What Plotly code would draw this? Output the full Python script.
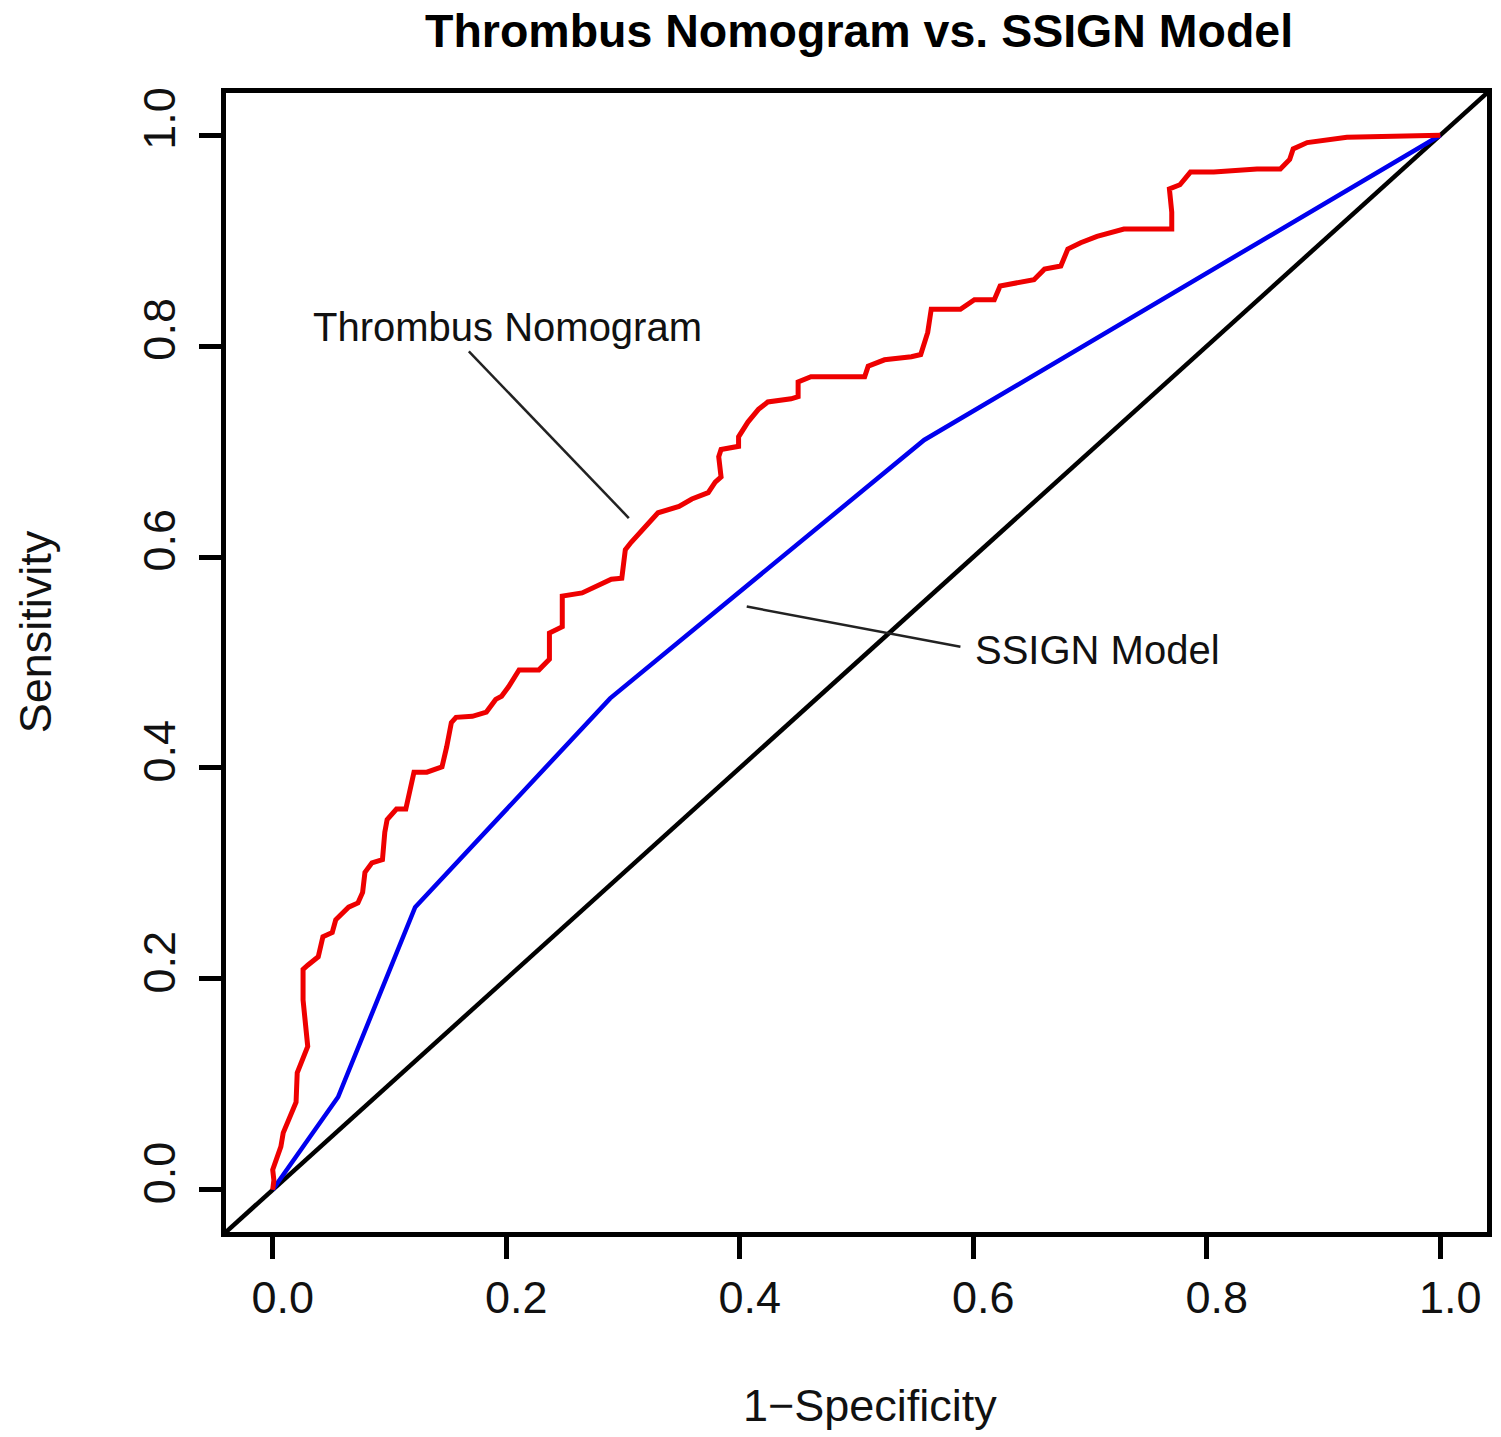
import plotly.graph_objects as go

# ROC curve of the thrombus nomogram (1-specificity, sensitivity)
nomogram_fpr = [0.000, 0.001, 0.000, 0.007, 0.009, 0.020, 0.021, 0.028, 0.030, 0.026,
                0.026, 0.030, 0.039, 0.043, 0.051, 0.054, 0.065, 0.073, 0.077, 0.079,
                0.085, 0.094, 0.096, 0.098, 0.106, 0.114, 0.119, 0.121, 0.132, 0.145,
                0.149, 0.153, 0.157, 0.171, 0.183, 0.191, 0.196, 0.202, 0.211, 0.228,
                0.237, 0.237, 0.248, 0.248, 0.265, 0.277, 0.290, 0.299, 0.302, 0.307,
                0.322, 0.330, 0.348, 0.359, 0.373, 0.379, 0.384, 0.382, 0.384, 0.399,
                0.399, 0.407, 0.416, 0.424, 0.444, 0.450, 0.450, 0.461, 0.493, 0.507,
                0.510, 0.524, 0.547, 0.555, 0.561, 0.564, 0.589, 0.601, 0.618, 0.623,
                0.652, 0.661, 0.675, 0.681, 0.692, 0.706, 0.729, 0.770, 0.770, 0.768,
                0.777, 0.786, 0.806, 0.843, 0.863, 0.871, 0.874, 0.886, 0.920, 0.994,
                1.000]
nomogram_tpr = [0.000, 0.009, 0.019, 0.041, 0.054, 0.083, 0.111, 0.130, 0.136, 0.180,
                0.209, 0.213, 0.221, 0.240, 0.244, 0.256, 0.268, 0.272, 0.282, 0.301,
                0.310, 0.313, 0.339, 0.351, 0.361, 0.361, 0.389, 0.396, 0.396, 0.401,
                0.420, 0.443, 0.448, 0.449, 0.453, 0.465, 0.468, 0.477, 0.493, 0.493,
                0.503, 0.528, 0.534, 0.563, 0.566, 0.572, 0.579, 0.580, 0.607, 0.614,
                0.633, 0.642, 0.648, 0.655, 0.661, 0.671, 0.676, 0.695, 0.702, 0.705,
                0.714, 0.728, 0.740, 0.747, 0.750, 0.752, 0.766, 0.771, 0.771, 0.771,
                0.781, 0.787, 0.790, 0.792, 0.813, 0.835, 0.835, 0.844, 0.844, 0.857,
                0.863, 0.873, 0.876, 0.892, 0.898, 0.904, 0.911, 0.911, 0.927, 0.949,
                0.953, 0.965, 0.965, 0.968, 0.968, 0.977, 0.987, 0.993, 0.998, 1.000,
                1.000]

# ROC curve of the SSIGN score
ssign_fpr = [0.000, 0.056, 0.122, 0.289, 0.558, 1.000]
ssign_tpr = [0.000, 0.088, 0.268, 0.466, 0.711, 1.000]

# Reference line (chance)
chance = [-0.04, 1.04]

tick_vals = [0.0, 0.2, 0.4, 0.6, 0.8, 1.0]
tick_text = ["0.0", "0.2", "0.4", "0.6", "0.8", "1.0"]

FONT = "Liberation Sans, Arial, Helvetica, sans-serif"

fig = go.Figure()
fig.add_trace(go.Scatter(x=chance, y=chance, mode="lines",
                         line=dict(color="black", width=4.5), hoverinfo="skip"))
fig.add_trace(go.Scatter(x=ssign_fpr, y=ssign_tpr, mode="lines",
                         line=dict(color="#0000ee", width=4.5), name="SSIGN Model"))
fig.add_trace(go.Scatter(x=nomogram_fpr, y=nomogram_tpr, mode="lines",
                         line=dict(color="#ee0000", width=5), name="Thrombus Nomogram"))

# Leader lines from the labels to the curves
fig.add_trace(go.Scatter(x=[0.168, 0.305], y=[0.795, 0.637], mode="lines",
                         line=dict(color="#222222", width=2.5), hoverinfo="skip"))
fig.add_trace(go.Scatter(x=[0.406, 0.589], y=[0.553, 0.515], mode="lines",
                         line=dict(color="#222222", width=2.5), hoverinfo="skip"))

axis_common = dict(
    tickmode="array", tickvals=tick_vals, ticktext=tick_text,
    showgrid=False, zeroline=False,
    showline=True, linecolor="black", linewidth=5, mirror=True,
    ticks="outside", ticklen=22, tickwidth=4.5, tickcolor="black",
    tickfont=dict(family=FONT, size=45, color="#111111"),
)

fig.update_xaxes(range=[-0.04, 1.04], ticklabelshift=10, ticklabelstandoff=0, **axis_common)
fig.update_yaxes(range=[-0.04, 1.04], tickangle=-90, ticklabelshift=-10,
                 ticklabelstandoff=6, **axis_common)

annotations = [
    dict(text="<b>Thrombus Nomogram vs. SSIGN Model</b>", xref="paper", yref="paper",
         x=0.502, y=1.054, xanchor="center", yanchor="middle", showarrow=False,
         font=dict(family=FONT, size=46.5, color="black")),
    dict(text="1\u2212Specificity", xref="paper", yref="paper",
         x=0.511, y=-0.152, xanchor="center", yanchor="middle", showarrow=False,
         font=dict(family=FONT, size=45, color="#111111")),
    dict(text="Sensitivity", xref="paper", yref="paper",
         x=-0.151, y=0.527, xanchor="center", yanchor="middle", showarrow=False,
         textangle=-90, font=dict(family=FONT, size=45, color="#111111")),
    dict(text="Thrombus Nomogram", xref="x", yref="y",
         x=0.2007, y=0.818, xanchor="center", yanchor="middle", showarrow=False,
         font=dict(family=FONT, size=40, color="#111111")),
    dict(text="SSIGN Model", xref="x", yref="y",
         x=0.706, y=0.512, xanchor="center", yanchor="middle", showarrow=False,
         font=dict(family=FONT, size=40, color="#111111")),
]

fig.update_layout(
    width=1501, height=1437,
    margin=dict(l=226, r=9, t=93, b=205),
    paper_bgcolor="white", plot_bgcolor="white",
    showlegend=False,
    annotations=annotations,
)

fig.write_html("out.html")
